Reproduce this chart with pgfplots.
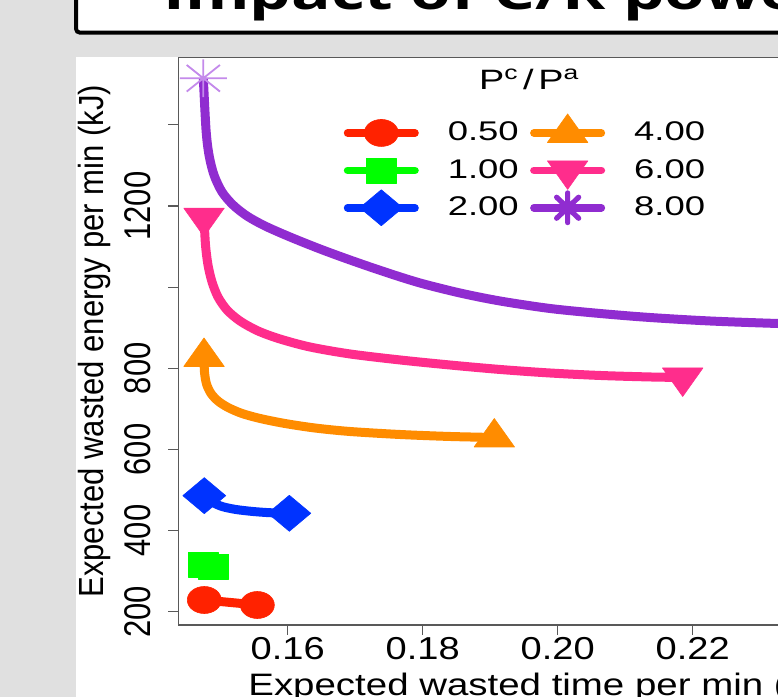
\documentclass[border=0pt]{standalone}
\usepackage{fontspec}
\setmainfont{Liberation Sans}
\newfontfamily\hf[FakeStretch=1.2]{Liberation Sans}
\newfontfamily\xlf[FakeStretch=1.24]{Liberation Sans}
\newfontfamily\vf[FakeStretch=0.833]{Liberation Sans}
\newfontfamily\vlf[FakeStretch=0.89]{Liberation Sans}
\newfontfamily\lf[FakeStretch=1.35]{Liberation Sans}
\newfontfamily\titlef[FakeStretch=1.37]{Open Sans}
\usepackage{pgfplots}
\pgfplotsset{compat=1.18}

\definecolor{bg}{HTML}{E0E0E0}
\definecolor{cred}{HTML}{FF2200}
\definecolor{cgreen}{HTML}{00FF00}
\definecolor{cblue}{HTML}{0033FF}
\definecolor{corange}{HTML}{FF8C00}
\definecolor{cpink}{HTML}{FF2D8C}
\definecolor{cpurple}{HTML}{902CD0}
\definecolor{cstar}{HTML}{C48AEB}

% R style pch 8: a plus on top of a cross
\pgfdeclareplotmark{rstar}{%
  \pgfpathmoveto{\pgfqpoint{-1.414\pgfplotmarksize}{0pt}}\pgfpathlineto{\pgfqpoint{1.414\pgfplotmarksize}{0pt}}%
  \pgfpathmoveto{\pgfqpoint{0pt}{-1.414\pgfplotmarksize}}\pgfpathlineto{\pgfqpoint{0pt}{1.414\pgfplotmarksize}}%
  \pgfpathmoveto{\pgfqpoint{-\pgfplotmarksize}{-\pgfplotmarksize}}\pgfpathlineto{\pgfqpoint{\pgfplotmarksize}{\pgfplotmarksize}}%
  \pgfpathmoveto{\pgfqpoint{-\pgfplotmarksize}{\pgfplotmarksize}}\pgfpathlineto{\pgfqpoint{\pgfplotmarksize}{-\pgfplotmarksize}}%
  \pgfusepathqstroke}

\begin{document}
\begin{tikzpicture}
\useasboundingbox (0pt,0pt) rectangle (389pt,348.5pt);
\clip (0pt,0pt) rectangle (389pt,348.5pt);
\begin{scope}[x=0.5pt,y=0.5pt]
  \fill[bg] (-10,-10) rectangle (800,710);
  \draw[line width=2pt, fill=white, rounded corners=2pt] (76,664.3) rectangle (900,760);
  \node[anchor=base west, inner sep=0pt, font=\titlef\bfseries\fontsize{24pt}{28pt}\selectfont] at (163,687.5) {Impact of C/R power ratio};
  \fill[white] (76,-10) rectangle (900,640.3);
\end{scope}

\begin{axis}[
  at={(89.15pt,36pt)}, anchor=south west,
  scale only axis, width=364.85pt, height=283.75pt,
  xmin=0.14379, xmax=0.25190, ymin=167.2, ymax=1566.1,
  axis line style={black!65, line width=0.6pt},
  tick style={black!65, line width=0.6pt},
  tick align=outside, tick pos=left, major tick length=5pt,
  xtick={0.16,0.18,0.20,0.22,0.24}, xticklabels={0.16,0.18,0.20,0.22,0.24},
  ytick={200,400,600,800,1000,1200,1400}, yticklabels={200,400,600,800,,1200,},
  xticklabel style={font=\hf\fontsize{15.85pt}{18pt}\selectfont, anchor=north, inner sep=0pt},
  xticklabel shift=1pt,
  yticklabel style={font=\vf\fontsize{18.6pt}{20pt}\selectfont, rotate=90, anchor=base, inner sep=0pt},
  yticklabel shift=9pt,
  xlabel={Expected wasted time per min (min)},
  ylabel={Expected wasted energy per min (kJ)},
  xlabel style={at={(axis description cs:0.0955,-0.1251)}, anchor=base west, inner sep=0pt, font=\xlf\fontsize{15.5pt}{18pt}\selectfont},
  ylabel style={at={(axis description cs:-0.1028,0.5)}, anchor=base, inner sep=0pt, font=\vlf\fontsize{17.45pt}{20pt}\selectfont},
  legend columns=3, transpose legend,
  legend cell align=left,
  legend image code/.code={
    \path[draw=none, fill=none] (0pt,-9.35pt) (0pt,9.35pt);
    \draw[#1, line width=3.8pt, line cap=round, mark indices={2}, every mark/.append style={overlay}]
      plot coordinates {(0pt,0pt) (16.85pt,0pt) (33.7pt,0pt)};
  },
  legend style={at={(axis description cs:0.2268,0.9000)}, anchor=north west,
    draw=none, fill=none, inner sep=0pt, outer sep=0pt, row sep=0pt,
    font=\lf\fontsize{13.5pt}{16pt}\selectfont, nodes={inner sep=0pt},
    /tikz/every odd column/.append style={column sep=14.5pt},
    /tikz/every even column/.append style={column sep=5.7pt}},
  every axis plot/.append style={line width=4.5pt, line join=round},
]
\addplot[cred, mark=*, mark size=6.75pt,
  mark options={fill=cred, draw=cred, line width=0.3pt, xscale=1.26}]
  coordinates {(0.14764,228.8) (0.15550,216.5)};
\addlegendentry{0.50}

\addplot[cgreen, mark=square*, mark size=6.25pt,
  mark options={fill=cgreen, draw=cgreen, line width=0.3pt, xscale=1.2}]
  coordinates {(0.14756,314.4) (0.14904,310.2)};
\addlegendentry{1.00}

\addplot[cblue, smooth, mark=diamond*, mark size=9pt, mark indices={1,7},
  mark options={fill=cblue, draw=cblue, line width=0.3pt, xscale=1.59}]
  coordinates {(0.14764,486.0) (0.14879,470.4) (0.15027,459.3) (0.15234,451.9) (0.15486,447.0)
               (0.15738,444.0) (0.16024,442.6)};
\addlegendentry{2.00}

\addplot[corange, smooth, mark=triangle*, mark size=9.5pt, mark indices={1,14},
  mark options={fill=corange, draw=corange, line width=0.3pt, xscale=1.23}]
  coordinates {(0.14760,827.9) (0.14767,790.9) (0.14797,761.3) (0.14864,737.9) (0.14967,719.4)
               (0.15116,703.4) (0.15323,688.6) (0.15590,676.3) (0.15960,663.9) (0.16404,652.8)
               (0.16923,644.2) (0.17664,636.8) (0.18404,631.9) (0.19061,629.4)};
\addlegendentry{4.00}

\addplot[cpink, smooth, mark=triangle*, mark size=9.5pt, mark indices={1,18},
  mark options={fill=cpink, draw=cpink, line width=0.3pt, xscale=1.23, rotate=180}]
  coordinates {(0.14760,1171.3) (0.14782,1104.0) (0.14819,1054.7) (0.14879,1012.7) (0.14967,975.8)
               (0.15101,943.7) (0.15293,916.6) (0.15560,892.0) (0.15886,872.2) (0.16330,852.5)
               (0.16923,835.3) (0.17664,820.5) (0.18404,808.1) (0.19145,797.1) (0.19886,788.4)
               (0.20627,782.3) (0.21367,778.6) (0.21852,777.3)};
\addlegendentry{6.00}

\addplot[cpurple, smooth, forget plot, mark=rstar, mark size=6.65pt, mark indices={1,22},
  mark options={draw=cstar, line width=0.9pt, xscale=1.25}]
  coordinates {(0.14750,1514.9) (0.14790,1387.4) (0.14834,1325.8) (0.14908,1276.5) (0.15027,1234.6)
               (0.15190,1202.6) (0.15397,1175.4) (0.15664,1150.8) (0.16034,1123.7) (0.16479,1094.1)
               (0.16923,1067.0) (0.17441,1037.4) (0.17960,1010.3) (0.18553,985.6) (0.19145,965.9)
               (0.19886,947.4) (0.20627,935.1) (0.21367,925.2) (0.22256,916.6) (0.23264,910.4)
               (0.24330,905.5) (0.25071,903.0)};
\addlegendimage{cpurple, mark=rstar, mark size=5.25pt,
  mark options={draw=cpurple, line width=2.6pt, line cap=round, xscale=1.05}}
\addlegendentry{8.00}
\end{axis}

\node[anchor=base, inner sep=0pt, font=\lf\fontsize{14pt}{16pt}\selectfont] at (264.6pt,303.5pt)
  {P\textsuperscript{c}\,/\,P\textsuperscript{a}};
\end{tikzpicture}
\end{document}
